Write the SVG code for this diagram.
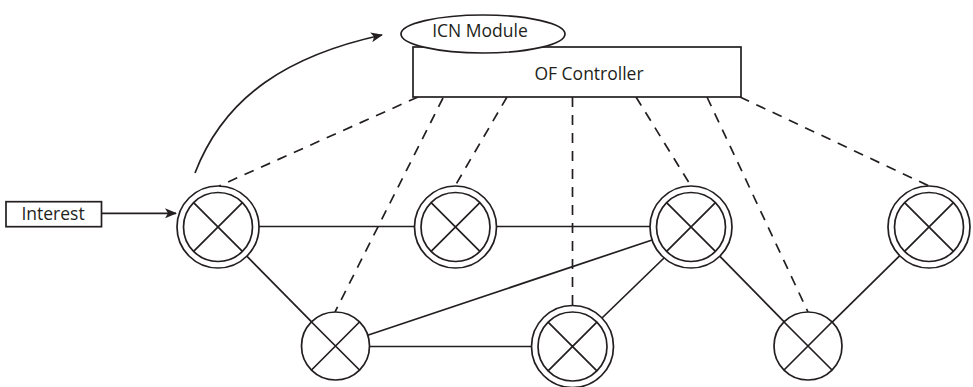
<svg xmlns="http://www.w3.org/2000/svg" width="973" height="387" viewBox="0 0 973 387">
  <style>
    .ln { stroke: #231f20; stroke-width: 1.7; fill: none; }
    .dash { stroke: #231f20; stroke-width: 1.7; fill: none; stroke-dasharray: 10 8; }
    .shape { stroke: #231f20; stroke-width: 1.7; fill: #fff; }
    .txt { font-family: "Open Sans", "Liberation Sans", sans-serif; font-size: 17.5px; fill: #231f20; text-anchor: middle; }
  </style>
  <defs>
    <marker id="arrow" viewBox="0 0 12 10" refX="11" refY="5" markerWidth="12" markerHeight="10" markerUnits="userSpaceOnUse" orient="auto">
      <path d="M0,0 L12,5 L0,10 L3,5 Z" fill="#231f20"/>
    </marker>
    <g id="dbl">
      <circle r="41" class="shape"/>
      <circle r="34.5" class="ln"/>
      <path d="M-24.4,-24.4 L24.4,24.4 M24.4,-24.4 L-24.4,24.4" class="ln"/>
    </g>
    <g id="sgl">
      <circle r="34" class="shape"/>
      <path d="M-24,-24 L24,24 M24,-24 L-24,24" class="ln"/>
    </g>
  </defs>
  <rect width="973" height="387" fill="#fff"/>

  <g id="connectors">
    <line x1="418" y1="97" x2="219" y2="186" class="dash"/>
    <line x1="443" y1="98" x2="335" y2="312" class="dash"/>
    <line x1="507" y1="97" x2="455" y2="186" class="dash"/>
    <line x1="572.5" y1="97" x2="572.5" y2="305" class="dash"/>
    <line x1="636" y1="97" x2="691" y2="186" class="dash"/>
    <line x1="707" y1="97" x2="808" y2="312" class="dash"/>
    <line x1="740" y1="97" x2="929" y2="186" class="dash"/>
    <line x1="259" y1="226.5" x2="414.5" y2="226.5" class="ln"/>
    <line x1="496.5" y1="226.5" x2="650" y2="226.5" class="ln"/>
    <line x1="246.8" y1="256.2" x2="311.6" y2="321.8" class="ln"/>
    <line x1="367.7" y1="335.2" x2="652.1" y2="240" class="ln"/>
    <line x1="369.5" y1="346.5" x2="531" y2="346.5" class="ln"/>
    <line x1="664" y1="258" x2="602" y2="318" class="ln"/>
    <line x1="719.7" y1="256.2" x2="784.2" y2="321.8" class="ln"/>
    <line x1="832.2" y1="322.2" x2="899.8" y2="255.7" class="ln"/>
    <line x1="101.5" y1="213.3" x2="176" y2="213.3" class="ln" marker-end="url(#arrow)"/>
    <path d="M195,173 C225,95 290,55 382,35" class="ln" marker-end="url(#arrow)"/>
  </g>

  <g id="of-controller">
    <rect x="413" y="47" width="328" height="50" class="shape"/>
    <text x="589" y="80" class="txt">OF Controller</text>
  </g>
  <g id="icn-module">
    <ellipse cx="483" cy="34" rx="82" ry="19" class="shape"/>
    <text x="480" y="37" class="txt">ICN Module</text>
  </g>
  <g id="interest">
    <rect x="6" y="201.7" width="95.5" height="25" class="shape"/>
    <text x="53" y="220" class="txt">Interest</text>
  </g>

  <g id="node-a"><use href="#dbl" x="218" y="227"/></g>
  <g id="node-b"><use href="#dbl" x="455.5" y="227"/></g>
  <g id="node-c"><use href="#dbl" x="691" y="227"/></g>
  <g id="node-d"><use href="#dbl" x="929" y="227"/></g>
  <g id="node-e"><use href="#sgl" x="335.5" y="346"/></g>
  <g id="node-f"><use href="#dbl" x="572.5" y="346.5"/></g>
  <g id="node-g"><use href="#sgl" x="808" y="346"/></g>
</svg>
